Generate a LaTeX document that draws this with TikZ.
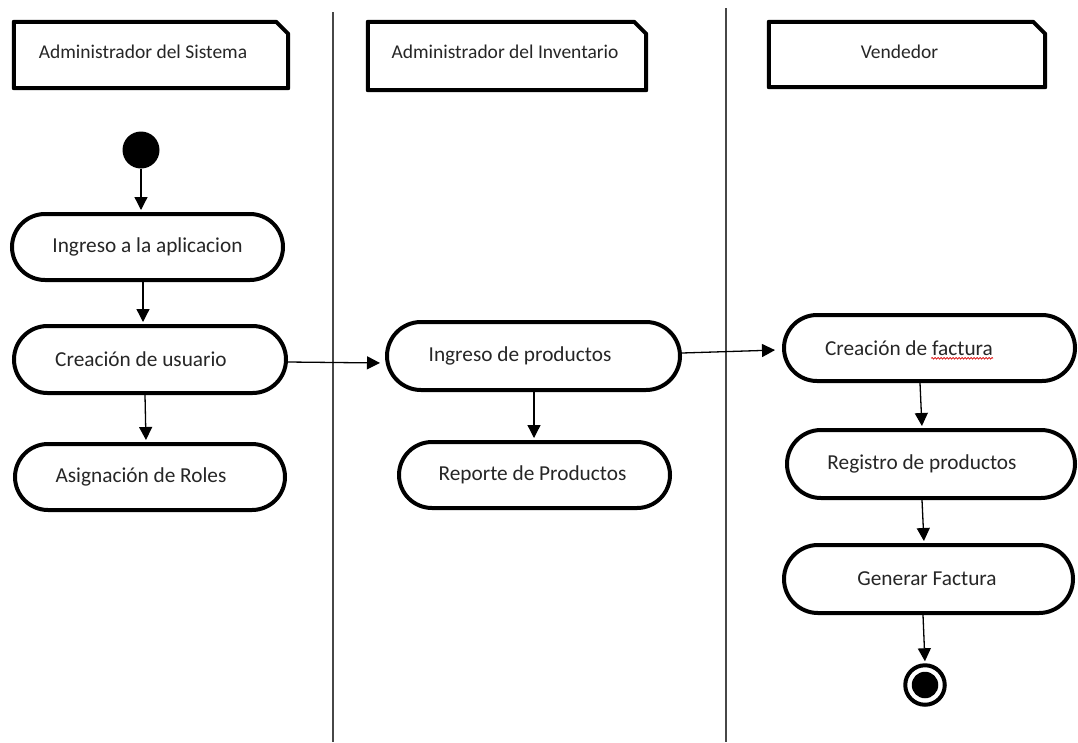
\documentclass[tikz,border=0pt]{standalone}
\usepackage{fontspec}
\setmainfont{Carlito}
\usetikzlibrary{arrows.meta,calc,shapes.misc,decorations.pathmorphing}
\begin{document}
\begin{tikzpicture}[x=1pt,y=-1pt,
  lane/.style={draw=black!72, line width=1.5pt},
  hdrbox/.style={rectangle, draw=none, inner sep=0, minimum width=#1},
  hdrline/.style={draw=black, line width=4pt, line join=round},
  hdrtext/.style={font=\fontsize{19.5}{22}\selectfont, text=black!85, inner sep=0},
  act/.style={rounded rectangle, draw=black, line width=4pt, inner sep=0, minimum width=#1},
  lbl/.style={font=\fontsize{21.3}{24}\selectfont, text=black!85, inner sep=0},
  arr/.style={draw=black, line width=1.3pt, -{Triangle[length=13pt,width=13pt]}, shorten >=2pt},
  startnode/.style={circle, fill=black, inner sep=0, minimum size=37pt},
  endring/.style={circle, draw=black, line width=4pt, inner sep=0, minimum size=39.5pt},
  enddot/.style={circle, fill=black, inner sep=0, minimum size=26.5pt}
]
\useasboundingbox[fill=white] (0,0) rectangle (1078,742);

% swimlane separators
\coordinate (l1t) at (333,12);
\coordinate (l1b) at (333,742);
\coordinate (l2t) at (726,8);
\coordinate (l2b) at (726,742);
\draw[lane] (l1t) -- (l1b);
\draw[lane] (l2t) -- (l2b);

% lane headers
\node[hdrbox=274pt, minimum height=66pt] (h1) at (151,55) {};
\node[hdrbox=278pt, minimum height=68pt] (h2) at (507,56) {};
\node[hdrbox=276pt, minimum height=65pt] (h3) at (907,54.5) {};
\foreach \h in {h1,h2,h3}{
  \draw[hdrline] (\h.south west) -- (\h.north west) -- ([xshift=-12pt]\h.north east)
    -- ([yshift=-12pt]\h.north east) -- (\h.south east) -- cycle;
}
\node[hdrtext] (ht1) at (143,52) {Administrador del Sistema};
\node[hdrtext] (ht2) at (505,52) {Administrador del Inventario};
\node[hdrtext] (ht3) at (899.5,52) {Vendedor};

% start / end
\node[startnode] (s) at (141,150) {};
\node[endring] (e) at (925,685) {};
\node[enddot] (ed) at (925,685) {};

% activities
\node[act=271pt, minimum height=66pt] (a1) at (147.5,247) {};
\node[act=272pt, minimum height=67pt] (a2) at (150,359.5) {};
\node[act=270pt, minimum height=66pt] (a3) at (150,477) {};
\node[act=293pt, minimum height=68pt] (b1) at (533.5,356) {};
\node[act=271pt, minimum height=66pt] (b2) at (534.5,475) {};
\node[act=291pt, minimum height=66pt] (c1) at (929.5,348) {};
\node[act=288pt, minimum height=68pt] (c2) at (931,464) {};
\node[act=289pt, minimum height=68pt] (c3) at (928.5,579) {};

\node[lbl] (a1t) at (147.5,247) {Ingreso a la aplicacion};
\node[lbl] (a2t) at (141,359.5) {Creación de usuario};
\node[lbl] (a3t) at (141,477) {Asignación de Roles};
\node[lbl] (b1t) at (520,356) {Ingreso de productos};
\node[lbl] (b2t) at (532.5,475) {Reporte de Productos};
\node[lbl] (c1t) at (909,348) {Creación de factura};
\node[lbl] (c2t) at (922,464) {Registro de productos};
\node[lbl] (c3t) at (927,579) {Generar Factura};

% spell-check underline
\draw[red!85!black, line width=0.7pt, decorate,
      decoration={snake, amplitude=0.8pt, segment length=3pt}]
  ($(c1t.base east)+(-62,3)$) -- ($(c1t.base east)+(0,3)$);

% flows
\draw[arr] (s.south) -- (s.south |- a1.north);
\draw[arr] ($(a1.south)+(-4.5,0)$) -- ($(a2.north)+(-7,0)$);
\draw[arr] ($(a2.south)+(-5,0)$) -- ($(a3.north)+(-4,0)$);
\draw[arr] ($(a2.east)+(0,2.5)$) -- ($(b1.west)+(-3,7)$);
\draw[arr] ($(b1.south)+(0.5,0)$) -- ($(b2.north)+(-0.5,0)$);
\draw[arr] ($(b1.east)+(0,-3)$) -- ($(c1.west)+(-5,2)$);
\draw[arr] ($(c1.south)+(-9.5,0)$) -- ($(c2.north)+(-9,0)$);
\draw[arr] ($(c2.south)+(-9,0)$) -- ($(c3.north)+(-4.5,0)$);
\draw[arr] ($(c3.south)+(-5.5,0)$) -- (e.north);
\end{tikzpicture}
\end{document}
